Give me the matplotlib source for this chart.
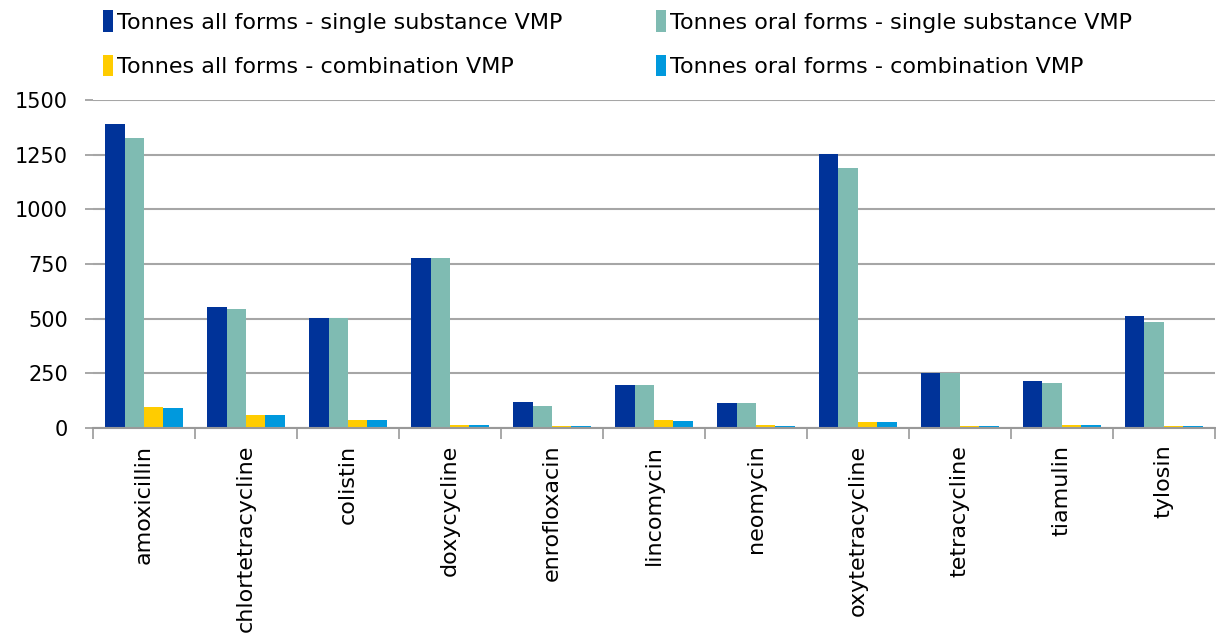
import numpy as np
import matplotlib
matplotlib.use("Agg")
import matplotlib.pyplot as plt
from matplotlib.ticker import FixedLocator

substances = ["amoxicillin", "chlortetracycline", "colistin", "doxycycline",
              "enrofloxacin", "lincomycin", "neomycin", "oxytetracycline",
              "tetracycline", "tiamulin", "tylosin"]

all_single = [1389, 552, 504, 776, 119, 196, 113, 1254, 253, 213, 512]
oral_single = [1324, 546, 504, 776, 102, 196, 113, 1187, 250, 207, 486]
all_comb = [95, 59, 36, 14, 8, 36, 14, 26, 8, 14, 8]
oral_comb = [90, 59, 36, 14, 7, 31, 8, 26, 8, 14, 8]

series = [
    ("Tonnes all forms - single substance VMP", all_single, "#003399"),
    ("Tonnes oral forms - single substance VMP", oral_single, "#7fbbb2"),
    ("Tonnes all forms - combination VMP", all_comb, "#ffcc00"),
    ("Tonnes oral forms - combination VMP", oral_comb, "#0099dd"),
]

plt.rcParams['font.family'] = ['DejaVu Sans']

fig = plt.figure(figsize=(12.16, 6.43), dpi=100)
ax = fig.add_axes([0.0765, 0.3344, 0.9225, 0.5101])

x = np.arange(len(substances))
w = 0.19
handles = []
for k, (name, vals, col) in enumerate(series):
    b = ax.bar(x + (k - 1.5) * w, vals, w, color=col, linewidth=0,
               label=name, zorder=3)
    handles.append(b)

ax.set_xlim(-0.5, len(substances) - 0.5)
ax.set_ylim(0, 1500)
ax.set_yticks([0, 250, 500, 750, 1000, 1250, 1500])
ax.yaxis.grid(True, color="#a6a6a6", linewidth=1.5, zorder=0)

ax.set_xticks(x)
ax.set_xticklabels(substances, rotation=90, fontsize=16)
ax.xaxis.set_minor_locator(FixedLocator(np.arange(-0.5, len(substances), 1.0)))
ax.tick_params(axis="x", which="major", length=0, pad=12)
ax.tick_params(axis="x", which="minor", length=8, width=1.2, color="#999999")
ax.tick_params(axis="y", length=6, width=1.2, color="#999999", labelsize=15, pad=12)

for s in ["top", "right", "left"]:
    ax.spines[s].set_visible(False)
ax.spines["bottom"].set_color("#999999")
ax.spines["bottom"].set_linewidth(1.5)
ax.spines["bottom"].set_zorder(4)

# legend is filled row by row in the reference
order = [0, 2, 1, 3]
fig.legend(handles=[handles[i] for i in order],
           labels=[series[i][0] for i in order], ncol=2,
           loc="upper left", bbox_to_anchor=(0.068, 1.015), frameon=False,
           fontsize=16, handlelength=0.45, handleheight=1.1, handletextpad=0.2,
           columnspacing=4.2, labelspacing=1.0)

fig.savefig("out.png", dpi=100)
